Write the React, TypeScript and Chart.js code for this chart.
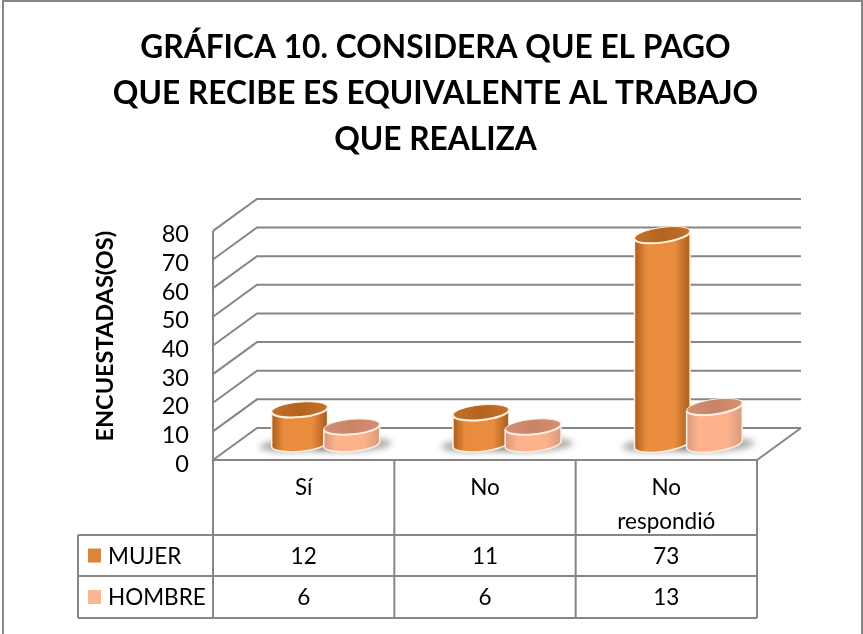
import React, { useEffect, useRef } from "react";
import { Chart, registerables } from "chart.js";

Chart.register(...registerables);

const titleLines = ["GRÁFICA 10. CONSIDERA QUE EL PAGO", "QUE RECIBE ES EQUIVALENTE AL TRABAJO", "QUE REALIZA"];
const categories: (string | string[])[] = ["Sí", "No", ["No", "respondió"]];
const mujer = [12, 11, 73];
const hombre = [6, 6, 13];
const seriesNames = ["MUJER", "HOMBRE"];
const yAxisTitle = "ENCUESTADAS(OS)";

const FONT = "Lato, Carlito, Calibri, sans-serif";
const GRAY = "#868686";
const DEPTH_X = 44;
const DEPTH_Y = 32;
const TABLE_ROWS = [535, 576, 618];
const TABLE_LEFT = 78;

const palettes = [
  { edge: "#a85c1c", mid: "#ea8c3e", top: "#c4702a", topDark: "#b4641f", rim: "#fff1e0", swatch: "#dc853e" },
  { edge: "#d8997c", mid: "#fdb28c", top: "#d48f74", topDark: "#c98468", rim: "#fdeee2", swatch: "#fbb795" },
];

function line(ctx: CanvasRenderingContext2D, pts: number[][]) {
  ctx.beginPath();
  pts.forEach(([x, y], i) => (i ? ctx.lineTo(x, y) : ctx.moveTo(x, y)));
  ctx.stroke();
}

function drawCylinder(ctx: CanvasRenderingContext2D, bar: any, p: (typeof palettes)[number], idx: number) {
  const rx = bar.width / 2 + 2;
  const ry = 7.5;
  const rot = -[0.09, 0.1, 0.14][idx];
  const cx = bar.x + DEPTH_X / 2;
  const topY = bar.y - DEPTH_Y / 2;
  const baseY = bar.base - DEPTH_Y / 2;
  const dx = Math.cos(rot) * rx;
  const dy = Math.sin(rot) * rx;

  ctx.save();
  ctx.beginPath();
  ctx.moveTo(cx - dx, topY - dy);
  ctx.lineTo(cx - dx, baseY - dy);
  ctx.ellipse(cx, baseY, rx, ry, rot, Math.PI, 0, true);
  ctx.lineTo(cx + dx, topY + dy);
  ctx.ellipse(cx, topY, rx, ry, rot, 0, Math.PI, false);
  ctx.closePath();
  const g = ctx.createLinearGradient(cx - rx, 0, cx + rx, 0);
  g.addColorStop(0, p.edge);
  g.addColorStop(0.22, p.mid);
  g.addColorStop(0.72, p.mid);
  g.addColorStop(1, p.edge);
  ctx.fillStyle = g;
  ctx.fill();
  ctx.strokeStyle = p.rim;
  ctx.lineWidth = 1.5;
  ctx.stroke();
  ctx.beginPath();
  ctx.ellipse(cx, topY, rx, ry, rot, 0, Math.PI * 2);
  const t = ctx.createLinearGradient(cx - rx, 0, cx + rx, 0);
  t.addColorStop(0, p.top);
  t.addColorStop(0.5, p.topDark);
  t.addColorStop(1, p.top);
  ctx.fillStyle = t;
  ctx.fill();
  ctx.lineWidth = 1;
  ctx.stroke();
  ctx.beginPath();
  ctx.ellipse(cx, topY, rx, ry, rot, 0, Math.PI, false);
  ctx.lineWidth = 2;
  ctx.stroke();
  ctx.restore();
}

const scene = {
  id: "scene",
  beforeDatasetsDraw(chart: any) {
    const { ctx, chartArea: a, scales } = chart;
    const y = scales.y;
    ctx.save();
    ctx.strokeStyle = GRAY;
    ctx.lineWidth = 2;
    line(ctx, [[3, 634], [3, 1], [862, 1], [862, 634]]);
    y.ticks.forEach((t: any) => {
      const py = y.getPixelForValue(t.value);
      line(ctx, [[a.left, py], [a.left + DEPTH_X, py - DEPTH_Y], [a.right + DEPTH_X, py - DEPTH_Y]]);
    });
    line(ctx, [[a.left, a.top], [a.left, a.bottom], [a.right, a.bottom], [a.right + DEPTH_X, a.bottom - DEPTH_Y]]);

    // data table
    const x = scales.x;
    const half = (x.getPixelForValue(1) - x.getPixelForValue(0)) / 2;
    const edges = [a.left, ...categories.map((_, i) => x.getPixelForValue(i) + half)];
    edges.forEach((ex) => line(ctx, [[ex, a.bottom], [ex, TABLE_ROWS[2]]]));
    TABLE_ROWS.forEach((ry) => line(ctx, [[TABLE_LEFT, ry], [a.right, ry]]));
    line(ctx, [[TABLE_LEFT, TABLE_ROWS[0]], [TABLE_LEFT, TABLE_ROWS[2]]]);

    ctx.font = `22.5px ${FONT}`;
    ctx.textBaseline = "middle";
    chart.data.datasets.forEach((ds: any, s: number) => {
      const cy = (TABLE_ROWS[s] + TABLE_ROWS[s + 1]) / 2 + 1;
      ctx.fillStyle = palettes[s].swatch;
      ctx.fillRect(88, cy - 8, 13, 14);
      ctx.fillStyle = "#000";
      ctx.textAlign = "left";
      ctx.fillText(seriesNames[s], 108, cy);
      ctx.textAlign = "center";
      ds.data.forEach((v: number, i: number) => ctx.fillText(String(v), x.getPixelForValue(i), cy));
    });
    ctx.restore();
  },
  beforeDatasetDraw() {
    return false;
  },
  afterDatasetsDraw(chart: any) {
    const { ctx } = chart;
    const metas = [chart.getDatasetMeta(0), chart.getDatasetMeta(1)];
    ctx.save();
    ctx.filter = "blur(3px)";
    ctx.fillStyle = "rgba(70,70,70,0.45)";
    metas.forEach((m) =>
      m.data.forEach((b: any) => {
        ctx.beginPath();
        ctx.ellipse(b.x + DEPTH_X / 2, b.base - DEPTH_Y / 2 + 1, b.width / 2 + 14, 7, -0.05, 0, Math.PI * 2);
        ctx.fill();
      })
    );
    ctx.restore();
    metas.forEach((m, s) => m.data.forEach((b: any, i: number) => drawCylinder(ctx, b, palettes[s], i)));
  },
};

export default function App() {
  const ref = useRef<HTMLCanvasElement>(null);
  useEffect(() => {
    const chart = new Chart(ref.current as HTMLCanvasElement, {
      type: "bar",
      data: {
        labels: categories as any,
        datasets: [
          { label: seriesNames[0], data: mujer, backgroundColor: palettes[0].swatch },
          { label: seriesNames[1], data: hombre, backgroundColor: palettes[1].swatch },
        ],
      },
      plugins: [scene as any],
      options: {
        responsive: false,
        animation: false,
        layout: { padding: { left: 8, right: 0, top: 0, bottom: 0 } },
        datasets: { bar: { barPercentage: 1, categoryPercentage: 0.575 } },
        plugins: {
          legend: { display: false },
          tooltip: { enabled: false },
          title: {
            display: true,
            text: titleLines,
            color: "#000",
            font: { family: FONT, size: 31.7, weight: "bold", lineHeight: 1.45 },
            padding: { top: 25, bottom: 68 },
          },
        },
        scales: {
          x: {
            grid: { display: false, drawTicks: false },
            border: { display: false },
            afterFit: (s: any) => { s.height = 174; },
            ticks: {
              color: "#000",
              autoSkip: false,
              maxRotation: 0,
              padding: 11,
              font: { family: FONT, size: 22.5, lineHeight: 1.5 },
            },
          },
          y: {
            min: 0,
            max: 80,
            afterFit: (s: any) => { s.width = 205; },
            grid: { display: false, drawTicks: false },
            border: { display: false },
            ticks: {
              stepSize: 10,
              autoSkip: false,
              color: "#000",
              padding: 24,
              labelOffset: 4,
              font: { family: FONT, size: 23.5 },
            },
            title: {
              display: true,
              text: yAxisTitle,
              align: "end",
              color: "#000",
              font: { family: FONT, size: 23.5, weight: "bold" },
              padding: { top: 83 },
            },
          },
          yRight: {
            position: "right",
            display: true,
            min: 0,
            max: 80,
            afterFit: (s: any) => { s.width = 106; },
            grid: { display: false, drawTicks: false },
            border: { display: false },
            ticks: { display: false },
          },
        },
      } as any,
    });
    return () => chart.destroy();
  }, []);
  return (
    <div style={{ position: "absolute", left: 0, top: 0, width: 863, height: 634, background: "#fff" }}>
      <canvas ref={ref} width={863} height={634} style={{ display: "block" }} />
    </div>
  );
}
